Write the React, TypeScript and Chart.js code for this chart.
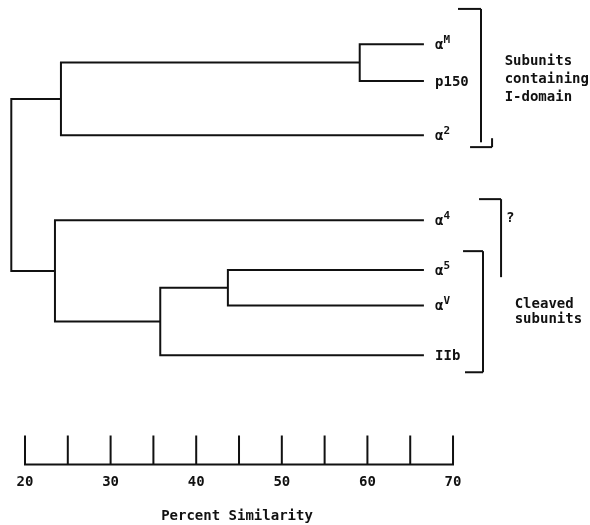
import { useEffect, useRef } from "react";
import { Chart, registerables } from "chart.js";

Chart.register(...registerables);

// ---- data ----
const leafNames = ["α", "p150", "α", "α", "α", "α", "IIb"];
const leafSuperscripts = ["M", "", "2", "4", "5", "V", ""];
const leafRows = [1.19, 2.18, 3.64, 5.93, 7.27, 8.22, 9.56];
const leafTip = 66.6;
// merges (scipy-like linkage): leaves are 0..6, merged clusters are 7..12
const mergeLeft = [0, 7, 4, 9, 3, 8];
const mergeRight = [1, 2, 5, 6, 10, 11];
const mergeSimilarity = [59.1, 24.2, 43.7, 35.8, 23.5, 18.4];
const rulerTicks = [20, 25, 30, 35, 40, 45, 50, 55, 60, 65, 70];
const tickLabels = [20, 30, 40, 50, 60, 70];
const axisTitle = "Percent Similarity";
const groupTopText = ["Subunits", "containing", "I-domain"];
const groupBottomText = ["Cleaved", "subunits"];
const questionText = "?";

const INK = "#111111";
const FONT = "'DejaVu Sans Mono', monospace";

const nLeaves = leafRows.length;
function nodeX(id: number): number {
  return id < nLeaves ? leafTip : mergeSimilarity[id - nLeaves];
}
function nodeY(id: number): number {
  if (id < nLeaves) return leafRows[id];
  const k = id - nLeaves;
  return (nodeY(mergeLeft[k]) + nodeY(mergeRight[k])) / 2;
}

const annotationPlugin = {
  id: "dendroAnnotations",
  afterDraw(chart: any) {
    const ctx = chart.ctx as CanvasRenderingContext2D;
    const xs = chart.scales.x;
    const ys = chart.scales.y;
    const X = (v: number) => xs.getPixelForValue(v);
    const Y = (v: number) => ys.getPixelForValue(v);
    const base = chart.chartArea.bottom;
    ctx.save();
    ctx.strokeStyle = INK;
    ctx.fillStyle = INK;
    ctx.lineWidth = 2;
    ctx.lineCap = "square";

    // ruler
    ctx.beginPath();
    ctx.moveTo(X(rulerTicks[0]), base);
    ctx.lineTo(X(rulerTicks[rulerTicks.length - 1]), base);
    rulerTicks.forEach((t) => {
      ctx.moveTo(X(t), base);
      ctx.lineTo(X(t), base - 28);
    });
    ctx.stroke();

    // leaf labels
    leafNames.forEach((name, i) => {
      const y = Y(leafRows[i]) + 5;
      const x = X(67.9);
      ctx.font = `bold 14px ${FONT}`;
      ctx.textBaseline = "alphabetic";
      ctx.textAlign = "left";
      ctx.fillText(name, x, y);
      const w = ctx.measureText(name).width;
      if (leafSuperscripts[i]) {
        ctx.font = `bold 11px ${FONT}`;
        ctx.fillText(leafSuperscripts[i], x + w, y - 6);
      }
    });

    const seg = (x1: number, y1: number, x2: number, y2: number) => {
      ctx.beginPath();
      ctx.moveTo(X(x1), Y(y1));
      ctx.lineTo(X(x2), Y(y2));
      ctx.stroke();
    };
    ctx.lineCap = "butt";
    // top bracket
    seg(70.58, 0.24, 73.27, 0.24);
    seg(73.27, 0.24, 73.27, 3.83);
    seg(71.99, 3.96, 74.56, 3.96);
    seg(74.56, 3.72, 74.56, 3.96);
    // ? bracket
    seg(73.04, 5.36, 75.61, 5.36);
    seg(75.61, 5.36, 75.61, 7.46);
    // cleaved bracket
    seg(71.17, 6.76, 73.5, 6.76);
    seg(73.5, 6.76, 73.5, 10.02);
    seg(71.4, 10.02, 73.5, 10.02);

    ctx.font = `bold 14px ${FONT}`;
    ctx.textAlign = "left";
    ctx.textBaseline = "alphabetic";
    const topRows = [1.75, 2.24, 2.72];
    groupTopText.forEach((t, i) => ctx.fillText(t, X(76.03), Y(topRows[i])));
    const botRows = [8.3, 8.69];
    groupBottomText.forEach((t, i) => ctx.fillText(t, X(77.2), Y(botRows[i])));
    ctx.fillText(questionText, X(76.2), Y(5.98));
    ctx.restore();
  },
};

export default function App() {
  const ref = useRef<HTMLCanvasElement | null>(null);
  useEffect(() => {
    if (!ref.current) return;
    const datasets = mergeLeft.map((a, k) => {
      const b = mergeRight[k];
      const h = mergeSimilarity[k];
      const ya = nodeY(a);
      const yb = nodeY(b);
      return {
        data: [
          { x: nodeX(a), y: ya },
          { x: h, y: ya },
          { x: h, y: yb },
          { x: nodeX(b), y: yb },
        ],
        showLine: true,
        borderColor: INK,
        borderWidth: 2,
        pointRadius: 0,
        fill: false,
        tension: 0,
        borderJoinStyle: "miter" as const,
      };
    });
    const chart = new Chart(ref.current, {
      type: "scatter",
      data: { datasets },
      options: {
        animation: false,
        responsive: true,
        maintainAspectRatio: false,
        layout: { padding: { left: 0, right: 116, top: 0, bottom: 0 } },
        plugins: { legend: { display: false }, tooltip: { enabled: false } },
        scales: {
          x: {
            type: "linear",
            min: 17.08,
            max: 72.45,
            grid: { display: false, drawTicks: false },
            border: { display: false },
            afterBuildTicks: (scale: any) => {
              scale.ticks = tickLabels.map((v) => ({ value: v }));
            },
            ticks: {
              padding: 10,
              maxRotation: 0,
              autoSkip: false,
              color: INK,
              font: { family: FONT, size: 14, weight: "bold" },
              callback: (v: any) => String(v),
            },
            title: {
              display: true,
              text: axisTitle,
              color: INK,
              font: { family: FONT, size: 14, weight: "bold" },
              padding: { top: 7, bottom: 0 },
            },
          },
          y: {
            type: "linear",
            display: false,
            min: 0,
            max: 12.5,
            reverse: true,
          },
        },
      },
      plugins: [annotationPlugin],
    });
    return () => chart.destroy();
  }, []);
  return (
    <div style={{ position: "fixed", left: 0, top: 0, width: 590, height: 525, background: "#fff" }}>
      <canvas ref={ref} />
    </div>
  );
}
